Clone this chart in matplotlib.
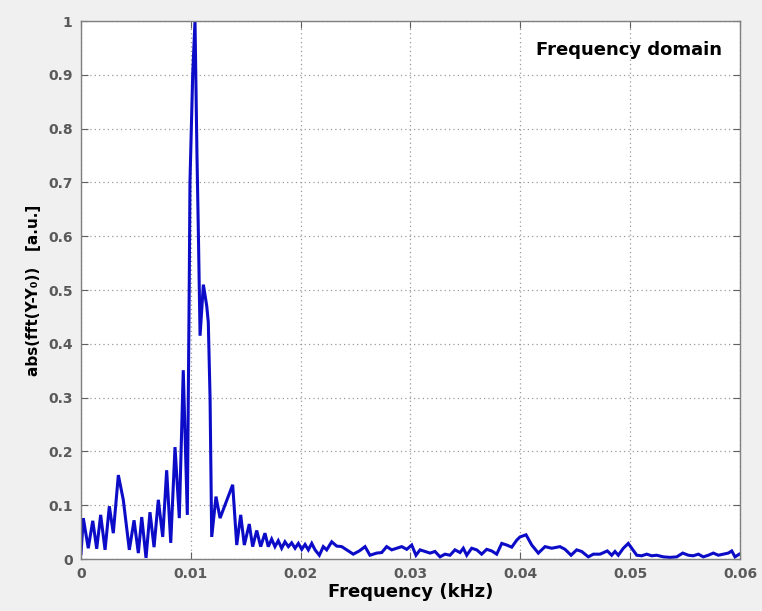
import matplotlib.pyplot as plt

# spectrum (frequency in kHz, amplitude in a.u.)
freq_khz = [
    0.00000, 0.00021, 0.00066, 0.00107, 0.00143, 0.00179, 0.00219, 0.00258,
    0.00294, 0.00340, 0.00385, 0.00440, 0.00483, 0.00522, 0.00553, 0.00592,
    0.00628, 0.00665, 0.00704, 0.00744, 0.00780, 0.00817, 0.00856, 0.00895,
    0.00931, 0.00968, 0.00986, 0.00992, 0.01017, 0.01038, 0.01056, 0.01070,
    0.01084, 0.01114, 0.01145, 0.01159, 0.01175, 0.01190, 0.01229, 0.01266,
    0.01381, 0.01418, 0.01454, 0.01487, 0.01532, 0.01563, 0.01600, 0.01636,
    0.01675, 0.01705, 0.01736, 0.01766, 0.01796, 0.01827, 0.01857, 0.01888,
    0.01918, 0.01949, 0.01979, 0.02010, 0.02040, 0.02070, 0.02101, 0.02131,
    0.02170, 0.02206, 0.02237, 0.02283, 0.02328, 0.02374, 0.02434, 0.02479,
    0.02534, 0.02586, 0.02631, 0.02692, 0.02738, 0.02783, 0.02829, 0.02875,
    0.02920, 0.02966, 0.03011, 0.03050, 0.03087, 0.03132, 0.03178, 0.03223,
    0.03269, 0.03314, 0.03360, 0.03405, 0.03451, 0.03481, 0.03512, 0.03557,
    0.03603, 0.03648, 0.03694, 0.03739, 0.03785, 0.03831, 0.03876, 0.03922,
    0.03967, 0.03997, 0.04052, 0.04104, 0.04164, 0.04225, 0.04286, 0.04361,
    0.04407, 0.04462, 0.04513, 0.04559, 0.04619, 0.04665, 0.04726, 0.04792,
    0.04832, 0.04862, 0.04892, 0.04938, 0.04983, 0.05014, 0.05060, 0.05105,
    0.05151, 0.05196, 0.05242, 0.05302, 0.05363, 0.05424, 0.05479, 0.05530,
    0.05575, 0.05621, 0.05666, 0.05712, 0.05757, 0.05803, 0.05848, 0.05894,
    0.05925, 0.05955, 0.05994,
]
amplitude = [
    0.010, 0.076, 0.020, 0.071, 0.019, 0.082, 0.017, 0.098,
    0.048, 0.156, 0.110, 0.017, 0.072, 0.011, 0.078, 0.002,
    0.087, 0.022, 0.110, 0.041, 0.165, 0.030, 0.208, 0.076,
    0.351, 0.082, 0.520, 0.700, 0.900, 1.000, 0.750, 0.590,
    0.415, 0.510, 0.470, 0.440, 0.300, 0.041, 0.116, 0.076,
    0.138, 0.026, 0.082, 0.026, 0.065, 0.023, 0.053, 0.023,
    0.048, 0.023, 0.037, 0.023, 0.034, 0.020, 0.032, 0.023,
    0.030, 0.020, 0.029, 0.018, 0.027, 0.017, 0.029, 0.017,
    0.007, 0.023, 0.017, 0.032, 0.024, 0.023, 0.015, 0.009,
    0.015, 0.023, 0.007, 0.011, 0.012, 0.023, 0.017, 0.020,
    0.023, 0.018, 0.026, 0.007, 0.017, 0.014, 0.011, 0.014,
    0.004, 0.009, 0.007, 0.017, 0.012, 0.020, 0.007, 0.020,
    0.017, 0.009, 0.018, 0.015, 0.009, 0.029, 0.026, 0.022,
    0.035, 0.041, 0.045, 0.026, 0.011, 0.023, 0.020, 0.023,
    0.018, 0.007, 0.017, 0.014, 0.004, 0.009, 0.009, 0.015,
    0.007, 0.014, 0.007, 0.020, 0.029, 0.020, 0.007, 0.006,
    0.009, 0.006, 0.007, 0.004, 0.003, 0.004, 0.011, 0.007,
    0.006, 0.009, 0.004, 0.007, 0.011, 0.007, 0.009, 0.011,
    0.015, 0.004, 0.009,
]

x_ticks = [0, 0.01, 0.02, 0.03, 0.04, 0.05, 0.06]
x_tick_labels = ['0', '0.01', '0.02', '0.03', '0.04', '0.05', '0.06']
y_ticks = [0, 0.1, 0.2, 0.3, 0.4, 0.5, 0.6, 0.7, 0.8, 0.9, 1]
y_tick_labels = ['0', '0.1', '0.2', '0.3', '0.4', '0.5', '0.6', '0.7', '0.8', '0.9', '1']

fig = plt.figure(figsize=(7.62, 6.11), dpi=100, facecolor='#f0f0f0')
ax = fig.add_axes([0.1063, 0.0851, 0.8648, 0.8805])
ax.set_facecolor('white')

ax.plot(freq_khz, amplitude, color='#0c0cc8', lw=2.2, solid_joinstyle='miter')

ax.set_xlim(0, 0.06)
ax.set_ylim(0, 1)
ax.set_xticks(x_ticks)
ax.set_xticklabels(x_tick_labels)
ax.set_yticks(y_ticks)
ax.set_yticklabels(y_tick_labels)

# matlab-like look: inward ticks on all sides, dotted grid
ax.tick_params(direction='in', top=True, right=True, length=5, width=0.8,
               color='#606060', labelsize=10, labelcolor='#5a5a5a', pad=6)
for lbl in ax.get_xticklabels() + ax.get_yticklabels():
    lbl.set_fontweight('bold')
for s in ax.spines.values():
    s.set_color('#808080')
    s.set_linewidth(1.0)
ax.grid(True, linestyle=(0, (1, 2.5)), color='#999999', linewidth=0.9)

ax.set_xlabel('Frequency (kHz)', fontsize=13, fontweight='bold', labelpad=1)
ax.set_ylabel('abs(fft(Y-Y₀))   [a.u.]', fontsize=11, fontweight='bold', labelpad=5)

ax.text(0.973, 0.946, 'Frequency domain', transform=ax.transAxes,
        ha='right', va='center', fontsize=13, fontweight='bold', color='black')

fig.savefig('out.png', dpi=100, facecolor=fig.get_facecolor())
